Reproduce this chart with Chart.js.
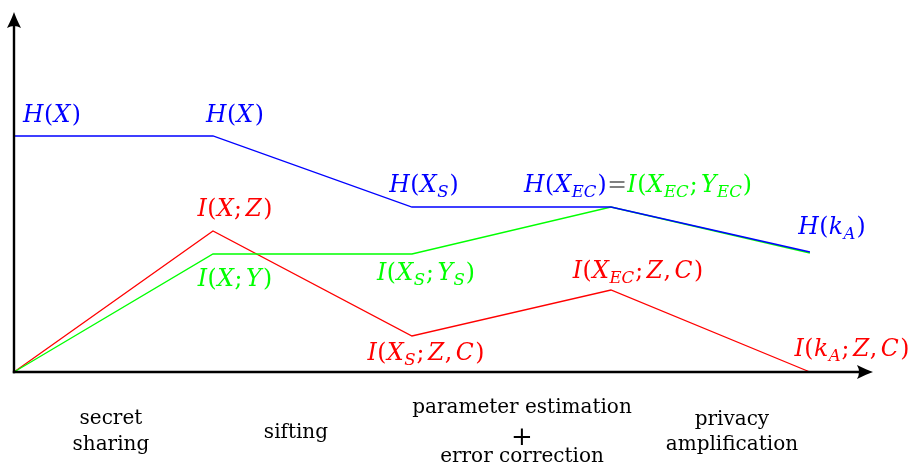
<!DOCTYPE html>
<html><head><meta charset="utf-8">
<script src="https://cdn.jsdelivr.net/npm/chart.js@4"></script>
<style>html,body{margin:0;padding:0;background:#fff}#wrap{width:910px;height:476px}</style>
</head><body><div id="wrap"><canvas id="c" width="910" height="476"></canvas></div>
<script>
// ---- data ----
const stages = [0, 1, 2, 3, 4];
const entropyX = [236, 236, 165, 165, 120];       // H(...)
const mutualXY = [0, 118, 118, 165, 119];         // I(X;Y)
const mutualXZ = [0, 141, 36, 82, 0];             // I(X;Z)
const entropyLabels = ["H(X)", "H(X)", "H(X_S)", "H(X_{EC})", "H(k_A)"];
const mutualXYLabels = [null, "I(X;Y)", "I(X_S;Y_S)", "I(X_{EC};Y_{EC})", null];
const mutualXZLabels = [null, "I(X;Z)", "I(X_S;Z,C)", "I(X_{EC};Z,C)", "I(k_A;Z,C)"];
const stageNames = [["secret", "sharing"], ["sifting"], ["parameter estimation", "+", "error correction"], ["privacy", "amplification"]];

// ---- layout config (not data) ----
const BLUE = '#0000ff', RED = '#ff0000', GREEN = '#00ff00', GRAY = '#808080';
const MFAM = '"DejaVu Serif", serif';
const MSIZE = 23.5, SSIZE = 16.5, MSPACE = 0.5;
// label offsets: [dxCenter, dyBaseline] from data point
const entOff = [[38, -14], [22, -14], [12, -15], null, [22, -18]];
const xyOff  = [null, [22, 32], [14, 26], null, null];
const xzOff  = [null, [22, -15], [14, 24], [27, -12], [42, -16]];
const stagePos = [0.487, 1.417, 2.553, 3.608];
const stageBase = [[424, 450], [438], [413, 445, 462], [425, 450]];

function parseMath(s){
  const out = []; let i = 0;
  while (i < s.length){
    const c = s[i];
    if (c === '_'){
      i++;
      if (s[i] === '{'){ const j = s.indexOf('}', i); for (const ch of s.slice(i+1, j)) out.push({ch, sub:true}); i = j+1; }
      else { out.push({ch:s[i], sub:true}); i++; }
    } else { out.push({ch:c, sub:false}); i++; }
  }
  return out;
}
function tokFont(t){
  const it = /[A-Za-z]/.test(t.ch);
  return (it ? 'italic ' : '') + (t.sub ? SSIZE : MSIZE) + 'px ' + MFAM;
}
function layoutSegs(ctx, segs){
  const items = []; let x = 0;
  segs.forEach(seg => {
    const toks = parseMath(seg.s);
    toks.forEach((t, k) => {
      ctx.font = tokFont(t);
      const w = ctx.measureText(t.ch).width;
      items.push({t, x, color: seg.color});
      x += w + (t.sub ? 0 : MSPACE);
      if (t.ch === ';' || t.ch === ',') x += 3;
      const nx = toks[k+1];
      if (/[A-Za-z]/.test(t.ch) && !t.sub && nx && nx.ch === ')') x += 1;
      if (t.sub && nx && !nx.sub) x += 1;
    });
  });
  return {items, width: x - MSPACE};
}
function drawMath(ctx, segs, cx, baseline){
  const L = layoutSegs(ctx, segs);
  const x0 = cx - L.width / 2;
  ctx.textBaseline = 'alphabetic'; ctx.textAlign = 'left';
  L.items.forEach(it => {
    ctx.font = tokFont(it.t);
    ctx.fillStyle = it.color;
    ctx.fillText(it.t.ch, x0 + it.x, baseline + (it.t.sub ? 5 : 0));
  });
}

function arrowHead(ctx, x, y, ang){
  ctx.save(); ctx.translate(x, y); ctx.rotate(ang);
  ctx.beginPath();
  ctx.moveTo(0, 0);
  ctx.quadraticCurveTo(-6, -2, -16, -7);
  ctx.quadraticCurveTo(-12, 0, -16, 7);
  ctx.quadraticCurveTo(-6, 2, 0, 0);
  ctx.closePath(); ctx.fillStyle = '#000'; ctx.fill();
  ctx.restore();
}

const decorPlugin = {
  id: 'decor',
  afterDatasetsDraw(chart){
    const ctx = chart.ctx, xs = chart.scales.x, ys = chart.scales.y;
    const ox = xs.getPixelForValue(0), oy = ys.getPixelForValue(0);
    const top = chart.chartArea.top, right = chart.chartArea.right;
    ctx.save();
    ctx.strokeStyle = '#000'; ctx.lineWidth = 2.4; ctx.lineCap = 'butt';
    ctx.beginPath(); ctx.moveTo(ox, oy + 1.2); ctx.lineTo(ox, top + 10); ctx.stroke();
    ctx.beginPath(); ctx.moveTo(ox - 1.2, oy); ctx.lineTo(right - 10, oy); ctx.stroke();
    arrowHead(ctx, ox, top, -Math.PI / 2);
    arrowHead(ctx, right, oy, 0);

    const px = i => xs.getPixelForValue(stages[i]);
    entropyLabels.forEach((lab, i) => {
      if (i === 3){
        drawMath(ctx, [{s:lab, color:BLUE}, {s:'=', color:GRAY}, {s:mutualXYLabels[3], color:GREEN}], px(i) + 27, ys.getPixelForValue(entropyX[i]) - 15);
        return;
      }
      const o = entOff[i];
      drawMath(ctx, [{s:lab, color:BLUE}], px(i) + o[0], ys.getPixelForValue(entropyX[i]) + o[1]);
    });
    mutualXYLabels.forEach((lab, i) => {
      if (!lab || !xyOff[i]) return;
      const o = xyOff[i];
      drawMath(ctx, [{s:lab, color:GREEN}], px(i) + o[0], ys.getPixelForValue(mutualXY[i]) + o[1]);
    });
    mutualXZLabels.forEach((lab, i) => {
      if (!lab || !xzOff[i]) return;
      const o = xzOff[i];
      drawMath(ctx, [{s:lab, color:RED}], px(i) + o[0], ys.getPixelForValue(mutualXZ[i]) + o[1]);
    });

    ctx.fillStyle = '#000'; ctx.textAlign = 'center'; ctx.textBaseline = 'alphabetic';
    stageNames.forEach((lines, i) => {
      const cx = xs.getPixelForValue(stagePos[i]);
      lines.forEach((ln, k) => {
        ctx.font = (ln === '+' ? '26px ' : '20px ') + '"DejaVu Serif", serif';
        ctx.fillText(ln, cx, stageBase[i][k]);
      });
    });
    ctx.restore();
  }
};

const mk = (vals, color) => ({
  data: stages.map((x, i) => ({x, y: vals[i]})),
  borderColor: color, backgroundColor: color, showLine: true,
  borderWidth: 1.3, pointRadius: 0, pointHoverRadius: 0, tension: 0, clip: false
});

new Chart(document.getElementById('c').getContext('2d'), {
  type: 'scatter',
  data: { datasets: [ mk(entropyX, BLUE), mk(mutualXY, GREEN), mk(mutualXZ, RED) ] },
  options: {
    responsive: false, animation: false, events: [],
    layout: { padding: { left: 14, right: 37, top: 12, bottom: 104 } },
    scales: {
      x: { type: 'linear', min: 0, max: 4.317, display: false },
      y: { type: 'linear', min: 0, max: 360, display: false }
    },
    plugins: { legend: { display: false }, tooltip: { enabled: false } }
  },
  plugins: [decorPlugin]
});
</script>
</body></html>
